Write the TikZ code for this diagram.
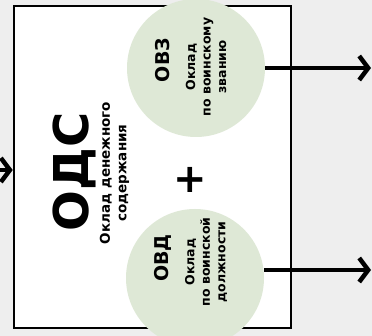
\documentclass[tikz,border=0pt]{standalone}
\usepackage{fontspec}
\setmainfont{DejaVu Sans}
\usetikzlibrary{arrows.meta}
\definecolor{bgc}{HTML}{EEEEEE}
\definecolor{circc}{HTML}{DEE8D6}
\begin{document}
\begin{tikzpicture}[x=1pt,y=-1pt,
  frame/.style={draw=black, line width=2.6pt, fill=white, minimum width=277pt, minimum height=322pt, inner sep=0pt},
  disc/.style={circle, fill=circc, minimum size=138pt, inner sep=0pt},
  arr/.style={line width=4.5pt, -{Straight Barb[length=9pt,width=24pt]}},
  bigtitle/.style={rotate=90, inner sep=0pt, font=\bfseries\fontsize{48}{50}\selectfont},
  subtitle/.style={rotate=90, inner sep=0pt, align=center, font=\bfseries\fontsize{13.5}{16.5}\selectfont},
  ctitle/.style={rotate=90, inner sep=0pt, font=\bfseries\fontsize{19}{20}\selectfont},
  csub/.style={rotate=90, inner sep=0pt, align=center, font=\bfseries\fontsize{12.5}{15.5}\selectfont},
  plussign/.style={inner sep=0pt, font=\bfseries\fontsize{40}{40}\selectfont}
]
\useasboundingbox (0,0) rectangle (372,336);
\fill[bgc] (0,0) rectangle (372,336);
\node[frame] (box) at (152.5,167) {};
\node[disc] (ovz) at (196,68) {};
\node[disc] (ovd) at (195,278) {};
\coordinate (inend) at (-30,170);
\coordinate (ovzend) at (371,68);
\coordinate (ovdend) at (371,270);
\draw[arr] (inend) -- (box.west |- inend);
\draw[arr] (ovz.east) -- (ovzend);
\draw[arr] (ovd.east |- ovdend) -- (ovdend);
\node[bigtitle] (ods) at (74,172) {ОДС};
\node[subtitle] (odssub) at (114.5,173) {Оклад денежного\\содержания};
\node[ctitle] (ovzt) at (162.5,60) {ОВЗ};
\node[csub] (ovzs) at (206,67) {Оклад\\по воинскому\\званию};
\node[ctitle] (ovdt) at (163,258) {ОВД};
\node[csub] (ovds) at (206,262) {Оклад\\по воинской\\должности};
\node[plussign] (plus) at (190.5,179.5) {+};
\end{tikzpicture}
\end{document}
